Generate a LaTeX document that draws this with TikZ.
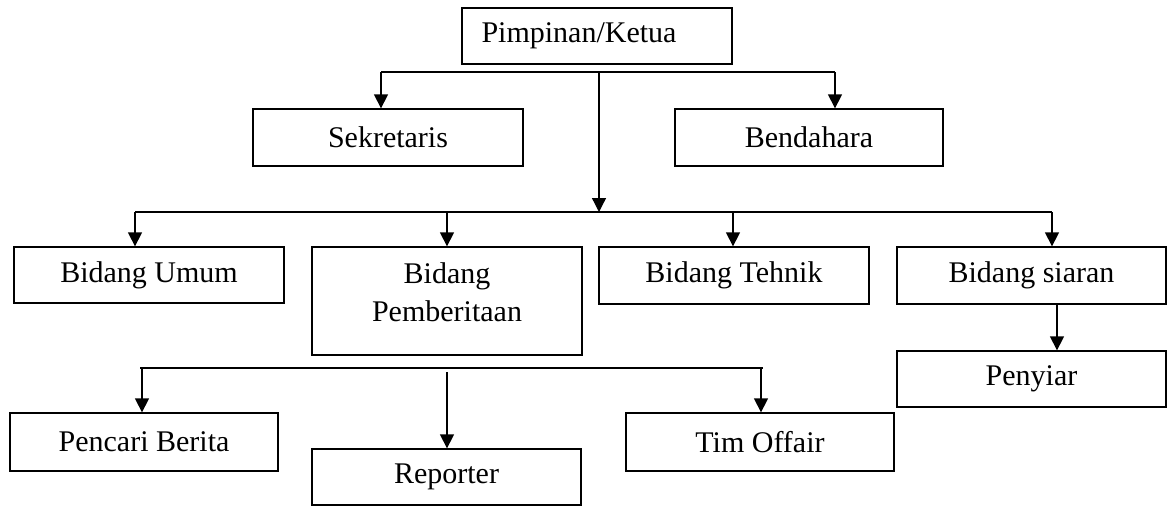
\documentclass[tikz,border=0pt]{standalone}
\usepackage{fontspec}
\setmainfont{Liberation Serif}
\usetikzlibrary{arrows.meta}
\begin{document}
\begin{tikzpicture}[x=1pt,y=-1pt,
  box/.style={draw=black,line width=1.3pt,inner sep=0pt,minimum width=270pt,minimum height=57pt,
    font=\fontsize{30}{38}\selectfont},
  conn/.style={line width=1.3pt},
  arr/.style={line width=1.3pt,-{Triangle[length=14pt,width=14pt]}}]
\useasboundingbox (0,0) rectangle (1168,506);
% boxes
\node[box,minimum width=270pt,minimum height=56pt] (P) at (597,36) {Pimpinan/Ketua\kern36pt\relax};
\node[box,minimum width=270pt] (S) at (388,137.5) {Sekretaris};
\node[box,minimum width=268pt] (B) at (809,137.5) {Bendahara};
\node[box,minimum width=270pt,minimum height=56pt] (BU) at (149,275) {Bidang Umum};
\node[box,minimum width=270pt,minimum height=108pt] (BP) at (447,301)
  {\raisebox{0pt}[0pt][0pt]{\begin{tabular}{@{}c@{}}Bidang\\Pemberitaan\end{tabular}}};
\node[box,minimum width=270pt] (BT) at (734,275.5) {Bidang Tehnik};
\node[box,minimum width=269pt] (BS) at (1031.5,275.5) {Bidang siaran};
\node[box,minimum width=269pt,minimum height=56pt] (PY) at (1031.5,379) {Penyiar};
\node[box,minimum width=268pt,minimum height=58pt] (PB) at (144,442) {Pencari Berita};
\node[box,minimum width=269pt,minimum height=56pt] (R) at (446.5,477) {Reporter};
\node[box,minimum width=268pt,minimum height=58pt] (T) at (760,442) {Tim Offair};
% top branch
\coordinate (tl) at (381,72);
\coordinate (tr) at (835,72);
\coordinate (tm) at (599,72);
\coordinate (hm) at (599,212);
\draw[conn] (tl) -- (tr);
\draw[arr] (tl) -- (tl |- S.north);
\draw[arr] (tr) -- (tr |- B.north);
\draw[arr] (tm) -- (hm);
% second level
\coordinate (hl) at (135,212);
\coordinate (hr) at (1052,212);
\coordinate (h2) at (447,212);
\coordinate (h3) at (733,212);
\draw[conn] (hl) -- (hr);
\draw[arr] (hl) -- (hl |- BU.north);
\draw[arr] (h2) -- (h2 |- BP.north);
\draw[arr] (h3) -- (h3 |- BT.north);
\draw[arr] (hr) -- (hr |- BS.north);
% siaran -> penyiar
\coordinate (sp) at (1057,304);
\draw[arr] (sp) -- (sp |- PY.north);
% pemberitaan sub level
\coordinate (sl) at (140,368);
\coordinate (sr) at (763,368);
\coordinate (s1) at (142,368);
\coordinate (s2) at (447,372);
\coordinate (s3) at (761,368);
\draw[conn] (sl) -- (sr);
\draw[arr] (s1) -- (s1 |- PB.north);
\draw[arr] (s2) -- (s2 |- R.north);
\draw[arr] (s3) -- (s3 |- T.north);
\end{tikzpicture}
\end{document}
